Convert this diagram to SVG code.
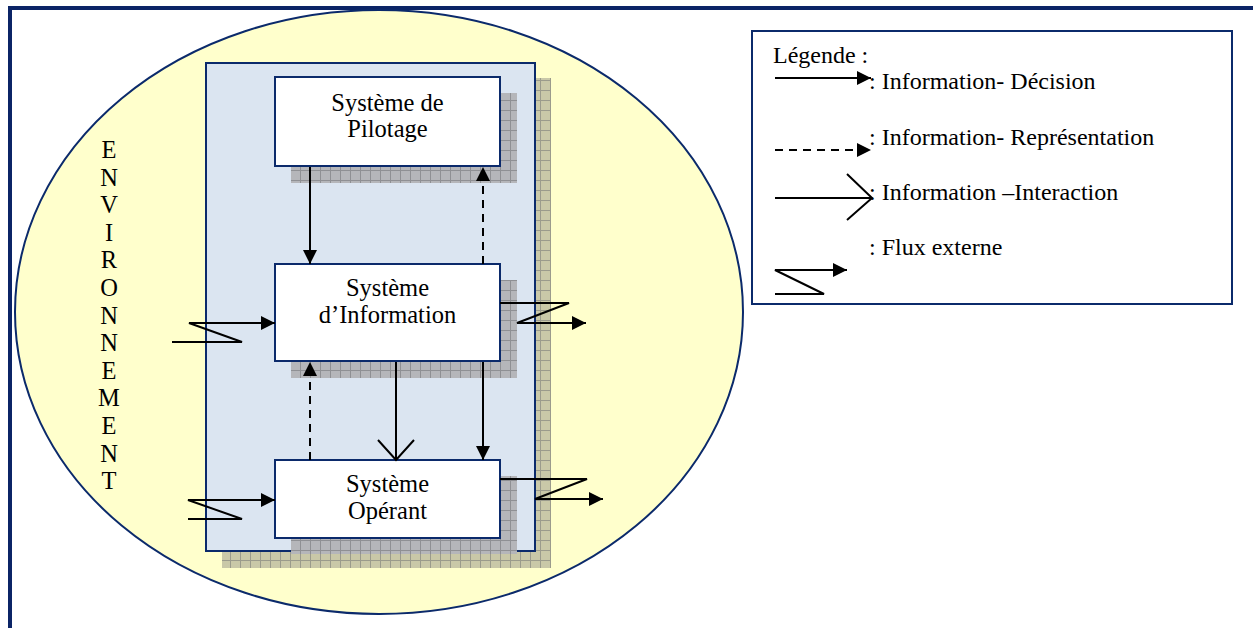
<svg xmlns="http://www.w3.org/2000/svg" width="1253" height="628" viewBox="0 0 1253 628">
<style>
text{font-family:'Liberation Serif','Times New Roman','DejaVu Serif',serif;fill:#000}
.bx{font-size:24.5px;text-anchor:middle}
.lg{font-size:24px}
.env{font-size:24.5px;text-anchor:middle}
.ln{stroke:#000;stroke-width:2;fill:none}
.dash{stroke-dasharray:8 6}
.box{fill:#fff;stroke:#0b2a6b;stroke-width:2}
</style>
<defs>
<marker id="ah" markerUnits="userSpaceOnUse" markerWidth="15" markerHeight="15" refX="14" refY="7.5" orient="auto">
<path d="M0,0.5 L14,7.5 L0,14.5 z" fill="#000"/>
</marker>
<pattern id="tan" width="10" height="10" patternUnits="userSpaceOnUse">
<rect width="10" height="10" fill="#c9c8a8"/>
<path d="M0,0.5H10M0.5,0V10" stroke="#9b9b8c" stroke-width="1"/>
</pattern>
<pattern id="gray" width="10" height="10" patternUnits="userSpaceOnUse">
<rect width="10" height="10" fill="#b5b6ba"/>
<path d="M0,0.5H10M0.5,0V10" stroke="#8f9094" stroke-width="1"/>
</pattern>
</defs>
<rect width="1253" height="628" fill="#fff"/>
<path d="M10,628V8H1253" fill="none" stroke="#0b2466" stroke-width="4"/>
<g id="environnement">
<ellipse cx="379" cy="312" rx="364" ry="302" fill="#ffffcc" stroke="#0b2a6b" stroke-width="2"/>
<g>
<text class="env" x="109" y="158">E</text><text class="env" x="109" y="186">N</text><text class="env" x="109" y="213">V</text><text class="env" x="109" y="241">I</text><text class="env" x="109" y="268">R</text><text class="env" x="109" y="296">O</text><text class="env" x="109" y="324">N</text><text class="env" x="109" y="351">N</text><text class="env" x="109" y="379">E</text><text class="env" x="109" y="406">M</text><text class="env" x="109" y="434">E</text><text class="env" x="109" y="462">N</text><text class="env" x="109" y="489">T</text>
</g>
</g>
<g id="entreprise">
<rect x="222" y="78" width="329" height="490" fill="url(#tan)"/>
<rect x="206" y="63" width="329" height="488" fill="#dbe5f1" stroke="#0b2a6b" stroke-width="2"/>
</g>
<g id="pilotage">
<rect x="291" y="93" width="226" height="90" fill="url(#gray)"/>
<rect class="box" x="275" y="77" width="225" height="89"/>
<text class="bx" x="387.5" y="111">Système de</text>
<text class="bx" x="387.5" y="137">Pilotage</text>
</g>
<g id="information">
<rect x="291" y="280" width="226" height="98" fill="url(#gray)"/>
<rect class="box" x="275" y="264" width="225" height="97"/>
<text class="bx" x="387.5" y="296">Système</text>
<text class="bx" x="387.5" y="323">d’Information</text>
</g>
<g id="operant">
<rect x="291" y="476" width="226" height="78" fill="url(#gray)"/>
<rect class="box" x="275" y="460" width="225" height="78"/>
<text class="bx" x="387.5" y="492">Système</text>
<text class="bx" x="387.5" y="519">Opérant</text>
</g>
<g id="connectors">
<line class="ln" x1="310" y1="167" x2="310" y2="264" marker-end="url(#ah)"/>
<line class="ln dash" x1="483" y1="264" x2="483" y2="167" marker-end="url(#ah)"/>
<line class="ln dash" x1="310" y1="460" x2="310" y2="362" marker-end="url(#ah)"/>
<line class="ln" x1="483" y1="362" x2="483" y2="460" marker-end="url(#ah)"/>
<path class="ln" d="M396,362V460M378,440L396,460L414,440"/>
<path class="ln" d="M172,342H242L189,323H275" marker-end="url(#ah)"/>
<path class="ln" d="M500,303H569L517,323H586" marker-end="url(#ah)"/>
<path class="ln" d="M188,519H242L188,500H275" marker-end="url(#ah)"/>
<path class="ln" d="M500,479H587L535,499H603" marker-end="url(#ah)"/>
</g>
<g id="legende">
<rect x="752" y="31" width="480" height="273" fill="#fff" stroke="#0b2a6b" stroke-width="2"/>
<text class="lg" x="773" y="63">Légende :</text>
<line class="ln" x1="775" y1="78" x2="871" y2="78" marker-end="url(#ah)"/>
<text class="lg" x="869" y="89">: Information- Décision</text>
<line class="ln dash" x1="775" y1="150" x2="871" y2="150" marker-end="url(#ah)"/>
<text class="lg" x="869" y="145">: Information- Représentation</text>
<path class="ln" d="M775,198H872M847,174L872,198L847,220"/>
<text class="lg" x="869" y="200">: Information –Interaction</text>
<path class="ln" d="M775,294H824L775,270H847" marker-end="url(#ah)"/>
<text class="lg" x="869" y="255">: Flux externe</text>
</g>
</svg>
